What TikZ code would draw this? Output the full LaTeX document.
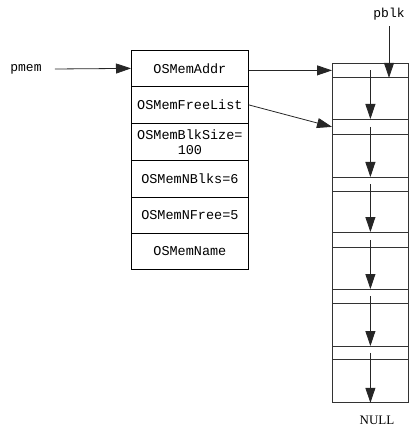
\documentclass[tikz,border=0pt]{standalone}
\usepackage{fontspec}
\setmainfont{Liberation Serif}
\setmonofont{Liberation Mono}
\usetikzlibrary{arrows.meta}
\begin{document}
\begin{tikzpicture}[x=1pt,y=-1pt,
  cell/.style={draw, line width=0.8pt, anchor=north west, minimum width=117pt, inner sep=0pt,
    font=\ttfamily\fontsize{13.5}{15}\selectfont, align=center},
  rcell/.style={draw=black!80, line width=0.8pt, anchor=north west, minimum width=76pt, inner sep=0pt},
  lbl/.style={inner sep=0pt, font=\ttfamily\fontsize{13}{15}\selectfont},
  arr/.style={-{Triangle[length=15pt,width=10pt]}, line width=0.8pt, draw=black!85}]
\useasboundingbox (0,0) rectangle (414,438);
% structure
\node[cell, minimum height=36pt] (r0) at (131,50) {OSMemAddr};
\node[cell, minimum height=37pt] (r1) at (131,86) {OSMemFreeList};
\node[cell, minimum height=37pt] (r2) at (131,123) {OSMemBlkSize=\\100};
\node[cell, minimum height=37pt] (r3) at (131,160) {OSMemNBlks=6};
\node[cell, minimum height=36pt] (r4) at (131,197) {OSMemNFree=5};
\node[cell, minimum height=36pt] (r5) at (131,233) {OSMemName};
% memory partition
\node[rcell, minimum height=14pt] (h0) at (332,63) {};
\node[rcell, minimum height=42pt] (b0) at (332,77) {};
\node[rcell, minimum height=15pt] (h1) at (332,119) {};
\node[rcell, minimum height=43pt] (b1) at (332,134) {};
\node[rcell, minimum height=14pt] (h2) at (332,177) {};
\node[rcell, minimum height=41pt] (b2) at (332,191) {};
\node[rcell, minimum height=15pt] (h3) at (332,232) {};
\node[rcell, minimum height=42pt] (b3) at (332,247) {};
\node[rcell, minimum height=14pt] (h4) at (332,289) {};
\node[rcell, minimum height=43pt] (b4) at (332,303) {};
\node[rcell, minimum height=13pt] (h5) at (332,346) {};
\node[rcell, minimum height=43pt] (b5) at (332,359) {};
% labels
\node[lbl] (pmem) at (26,69) {pmem};
\node[lbl] (pblk) at (389,14) {pblk};
\node[inner sep=0pt, font=\fontsize{13}{15}\selectfont] (null) at (377,420) {NULL};
% arrows
\draw[arr] ([xshift=13pt]pmem.east) -- (r0.west);
\draw[arr] (r0.east |- h0.west) -- (h0.west);
\draw[arr] (r1.east) -- (h1.west);
\draw[arr] ([yshift=-6pt]pblk.south) -- (pblk.south |- h0.south);
\foreach \i/\j in {0/1,1/2,2/3,3/4,4/5}
  \draw[arr] (h\i.center) -- (h\j.north);
\draw[arr] (h5.center) -- (b5.south);
\end{tikzpicture}
\end{document}
